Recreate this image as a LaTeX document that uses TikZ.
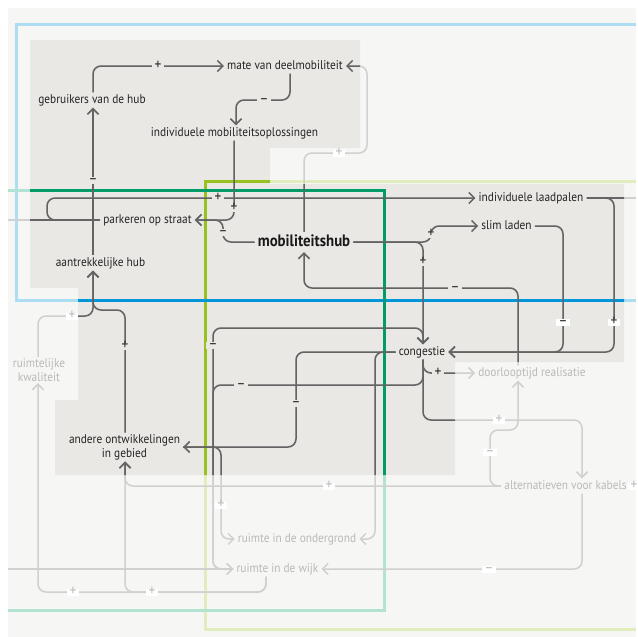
\documentclass[tikz,border=0pt]{standalone}
\usepackage{fontspec}
\setmainfont{PT Sans}[FakeStretch=0.9]
\usetikzlibrary{arrows.meta}
\definecolor{bgc}{RGB}{246,246,244}
\definecolor{reg}{RGB}{233,232,229}
\definecolor{lnd}{RGB}{100,100,100}
\definecolor{lnf}{RGB}{208,208,208}
\definecolor{txd}{RGB}{35,35,35}
\definecolor{txf}{RGB}{185,185,185}
\definecolor{blueS}{RGB}{0,150,218}
\definecolor{blueF}{RGB}{172,221,243}
\definecolor{greenS}{RGB}{0,155,104}
\definecolor{greenF}{RGB}{178,227,210}
\definecolor{ygS}{RGB}{150,193,31}
\definecolor{ygF}{RGB}{226,237,190}
\tikzset{
  regionshape/.style={insert path={(30,40) -- (360,40) -- (360,148) -- (270,148) -- (270,184) -- (624,184) -- (624,362) -- (455,362) -- (455,475) -- (55,475) -- (55,400) -- (78,400) -- (78,288) -- (30,288) -- cycle}},
  txt/.style={font=\fontsize{12.6}{14}\selectfont, text=txd, text height=9pt, text depth=3pt, inner xsep=3pt, inner ysep=1.5pt},
  txtf/.style={txt, text=txf},
  txttwo/.style={font=\fontsize{12.6}{14}\selectfont, text=txd, align=center, inner xsep=3pt, inner ysep=1.5pt},
  hubst/.style={font=\bfseries\fontsize{16.5}{18}\selectfont, text=black!90, text height=11.5pt, text depth=3.5pt, inner xsep=3pt, inner ysep=2.5pt},
  sg/.style={font=\fontsize{15}{15}\selectfont, text=txd, fill=reg, inner xsep=2.5pt, inner ysep=0pt, text height=7pt, text depth=0pt},
  sgw/.style={sg, fill=white},
  sgf/.style={sg, fill=white, text=txf},
  lnbase/.style={line width=1.5pt, rounded corners=8pt},
  fr/.style={line width=3pt},
  arr/.style={-{Straight Barb[length=5.5pt,width=11pt]}},
}
\newcommand\links{%
\draw[fyg] (636,181) -- (205,181) -- (205,629) -- (636,629);
\draw[fbl] (636,24) -- (16,24) -- (16,300) -- (636,300);
\draw[fgr] (8,190) -- (384,190) -- (384,610) -- (8,610);
\draw[ln,arr] ([xshift=1pt]gebr.north) |- (mate.west);
\draw[ln,arr] ([xshift=5pt]mate.south) |- (236,100) -- ([xshift=1.5pt]indmob.north);
\draw[ln,arr] ([xshift=-0.5pt]indmob.south) |- (park.east);
\draw[ln,arr] (hub.west) -| (223,220) -- (park.east);
\draw[ln,arr] (park.west) -| (47,198) -- (laad.west);
\draw[ln] (park.west) -- (eL1);
\draw[ln,arr] ([xshift=-7.5pt]aantr.north) -- ([xshift=1pt]gebr.south);
\draw[ln,arr] (hub.north) |- (367,153) |- (mate.east);
\draw[ln,arr] ([xshift=-1pt]kwal.north) |- (93,316) -- ([xshift=-7.5pt]aantr.south);
\draw[ln,arr] ([xshift=0.5pt]andere.north) |- (93,310) -- ([xshift=-7.5pt]aantr.south);
\draw[ln,arr] ([xshift=-11.5pt]wijk.south) |- (125,592) -- ([xshift=0.5pt]andere.south);
\draw[ln,arr] ([xshift=-11.5pt]wijk.south) |- (38,592) -- ([xshift=-1pt]kwal.south);
\draw[ln,arr] (alt.west) -| ([xshift=0.5pt]andere.south);
\draw[ln,arr] ([xshift=-14pt]door.north) |- (304,288) -- (hub.south);
\draw[ln,arr] (hub.east) -| (431,226) -- (slim.west);
\draw[ln,arr] (hub.east) -| ([xshift=1pt]cong.north);
\draw[ln,arr] (laad.east) -| (614,352) -- (cong.east);
\draw[ln] (laad.east) -- (eR1);
\draw[ln,arr] (slim.east) -| (563,352) -- (cong.east);
\draw[ln,arr] ([xshift=1pt]cong.south) |- (door.west);
\draw[ln,arr] ([xshift=1pt]cong.south) |- (582,420) -- ([xshift=16.5pt]alt.north);
\draw[ln,arr] (alt.west) -| (490,430) -| ([xshift=-14pt]door.south);
\draw[ln,arr] ([xshift=16.5pt]alt.south) |- (wijk.east);
\draw[ln] (alt.east) -- (eR2);
\draw[ln,arr] (eL2) -- (wijk.west);
\draw[ln,arr] (cong.west) -| (296,447) -- (andere.east);
\draw[ln,arr] (cong.west) -| (375,539) -- (onder.east);
\draw[ln,arr] (andere.east) -| (221,539) -- (onder.west);
\draw[ln,arr] ([xshift=1pt]cong.south) |- (213,385) |- (wijk.west);
\draw[ln,arr] (wijk.west) -| (213,328) -| ([xshift=1pt]cong.north);
}
\begin{document}
\begin{tikzpicture}[x=1pt,y=-1pt]
\useasboundingbox (0,0) rectangle (638,637);
\fill[white] (0,0) rectangle (638,637);
\fill[bgc] (8,8) rectangle (636,637);
\fill[reg, regionshape];
% nodes
\node[txt] (mate) at (285,66) {mate van deelmobiliteit};
\node[txt] (gebr) at (92,100) {gebruikers van de hub};
\node[txt] (indmob) at (234.5,133) {individuele mobiliteitsoplossingen};
\node[txt] (park) at (147.5,220) {parkeren op straat};
\node[txt] (aantr) at (100.5,263) {aantrekkelijke hub};
\node[hubst] (hub) at (304,242) {mobiliteitshub};
\node[txt] (laad) at (531,198) {individuele laadpalen};
\node[txt] (slim) at (506.5,226) {slim laden};
\node[txt] (cong) at (422,352) {congestie};
\node[txtf] (door) at (532,373) {doorlooptijd realisatie};
\node[txttwo, text=txf] (kwal) at (39,370) {ruimtelijke\\kwaliteit};
\node[txttwo] (andere) at (124.5,447) {andere ontwikkelingen\\in gebied};
\node[txtf] (onder) at (297,539) {ruimte in de ondergrond};
\node[txtf] (wijk) at (277.5,569) {ruimte in de wijk};
\node[txtf] (alt) at (565.5,486) {alternatieven voor kabels};
\coordinate (eL1) at (8,220);
\coordinate (eL2) at (8,569);
\coordinate (eR1) at (636,198);
\coordinate (eR2) at (638,486);
% faded pass
\begin{scope}[ln/.style={lnbase, draw=lnf}, fyg/.style={fr, draw=ygF}, fbl/.style={fr, draw=blueF}, fgr/.style={fr, draw=greenF}]
\links
\end{scope}
% strong pass inside the focus region
\begin{scope}[ln/.style={lnbase, draw=lnd}, fyg/.style={fr, draw=ygS}, fbl/.style={fr, draw=blueS}, fgr/.style={fr, draw=greenS}]
\clip[regionshape];
\links
\end{scope}
% signs
\node[sg] (s1) at (158,66) {+};
\node[sg] (s2) at (264,100) {–};
\node[sg] (s3) at (234,208) {+};
\node[sg] (s4) at (223,232) {–};
\node[sg] (s5) at (218,198) {+};
\node[sg] (s6) at (93,180) {–};
\node[sgf] (s7) at (339,153) {+};
\node[sgf] (s8) at (72,316) {+};
\node[sg] (s9) at (125,346) {+};
\node[sgf] (s10) at (152,592) {+};
\node[sgf] (s11) at (73,592) {+};
\node[sgf] (s12) at (329,486) {+};
\node[sg] (s13) at (455,288) {–};
\node[sg] (s14) at (431,234) {+};
\node[sg] (s15) at (423,262) {+};
\node[sgw] (s16) at (614,322) {+};
\node[sgw] (s17) at (563,322) {–};
\node[sg] (s18) at (438,373) {+};
\node[sgf] (s19) at (499,420) {+};
\node[sgf] (s20) at (490,452) {–};
\node[sgf] (s21) at (489,569) {–};
\node[sgf] (s22) at (634,486) {+};
\node[sg] (s23) at (296,403) {–};
\node[sgf] (s24) at (221,505) {+};
\node[sg] (s25) at (241,385) {–};
\node[sg] (s26) at (213,345) {–};
\end{tikzpicture}
\end{document}
